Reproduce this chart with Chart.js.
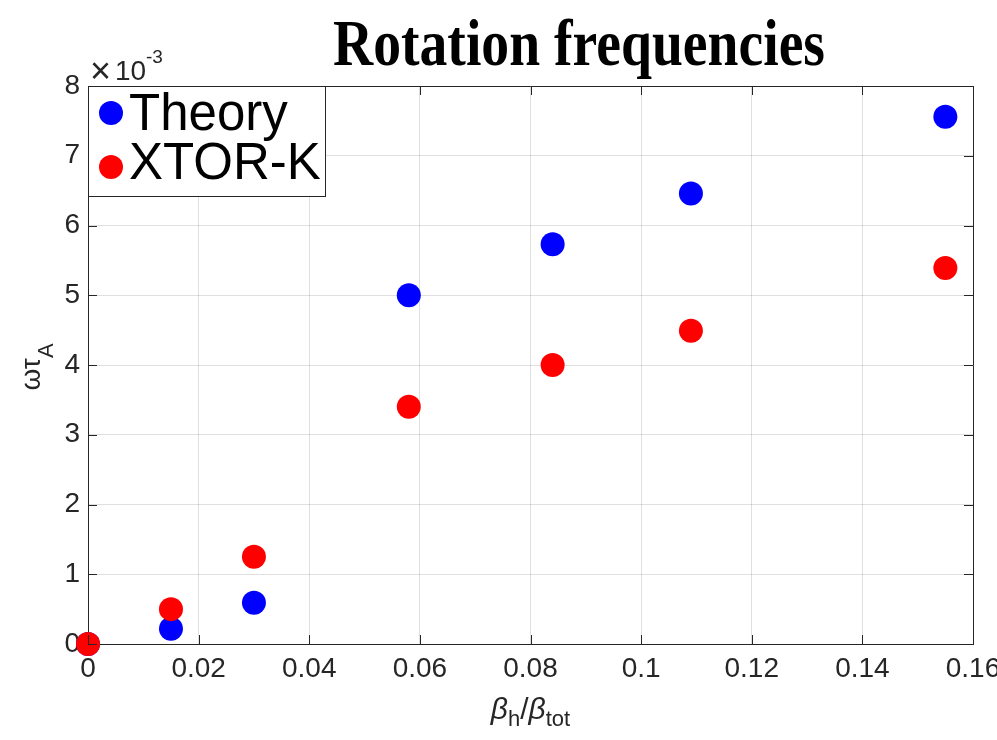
<!DOCTYPE html>
<html>
<head>
<meta charset="utf-8">
<title>Rotation frequencies</title>
<script src="https://cdn.jsdelivr.net/npm/chart.js@4.4.1/dist/chart.umd.min.js"></script>
<style>
    html, body { margin: 0; padding: 0; background: #fff; }
    #wrap { width: 997px; height: 740px; position: relative; }
</style>
</head>
<body>
<div id="wrap"><canvas id="rotChart"></canvas></div>
<script>
// --- data (omega*tau_A in units of 1e-3) ---
const betaRatio = [0, 0.015, 0.03, 0.058, 0.084, 0.109, 0.155];
const theoryValues = [0, 0.22, 0.59, 5.0, 5.73, 6.46, 7.56];
const xtorValues = [0, 0.50, 1.25, 3.40, 4.00, 4.49, 5.39];
const seriesNames = ['Theory', 'XTOR-K'];
const xTickLabels = ['0', '0.02', '0.04', '0.06', '0.08', '0.1', '0.12', '0.14', '0.16'];
const yTickLabels = ['0', '1', '2', '3', '4', '5', '6', '7', '8'];

const AXIS_COLOR = '#262626';
const SANS = '"Liberation Sans", Helvetica, Arial, sans-serif';

const toPoints = (vals) => vals.map((v, i) => ({ x: betaRatio[i], y: v }));

// title, axis labels, exponent, inner ticks, box and legend (matlab look)
const matlabDecor = {
    id: 'matlabDecor',
    afterDatasetsDraw(chart) {
        const ctx = chart.ctx;
        const a = chart.chartArea;
        const xs = chart.scales.x;
        const ys = chart.scales.y;
        ctx.save();

        // top and right border
        ctx.strokeStyle = AXIS_COLOR;
        ctx.lineWidth = 1;
        ctx.beginPath();
        ctx.moveTo(a.left, a.top + 0.5);
        ctx.lineTo(a.right + 0.5, a.top + 0.5);
        ctx.lineTo(a.right + 0.5, a.bottom);
        ctx.stroke();

        // inner tick marks
        const tl = 9;
        ctx.beginPath();
        xs.ticks.forEach(t => {
            const px = Math.round(xs.getPixelForValue(t.value)) + 0.5;
            ctx.moveTo(px, a.bottom); ctx.lineTo(px, a.bottom - tl);
            ctx.moveTo(px, a.top); ctx.lineTo(px, a.top + tl);
        });
        ys.ticks.forEach(t => {
            const py = Math.round(ys.getPixelForValue(t.value)) + 0.5;
            ctx.moveTo(a.left, py); ctx.lineTo(a.left + tl, py);
            ctx.moveTo(a.right, py); ctx.lineTo(a.right - tl, py);
        });
        ctx.stroke();

        // legend box
        const lx = a.left, ly = a.top, lw = 237, lh = 110;
        ctx.fillStyle = '#fff';
        ctx.fillRect(lx, ly, lw, lh);
        ctx.strokeRect(lx + 0.5, ly + 0.5, lw, lh);
        const rows = [113, 167];
        const bases = [130, 179];
        chart.data.datasets.forEach((ds, i) => {
            ctx.fillStyle = ds.backgroundColor;
            ctx.beginPath();
            ctx.arc(lx + 23, rows[i], 12, 0, Math.PI * 2);
            ctx.fill();
            ctx.fillStyle = '#000';
            ctx.font = '51px ' + SANS;
            ctx.textAlign = 'left';
            ctx.textBaseline = 'alphabetic';
            ctx.fillText(ds.label, lx + 41, bases[i]);
        });

        // exponent label
        ctx.fillStyle = AXIS_COLOR;
        ctx.font = '36px ' + SANS;
        ctx.fillText('\u00d7', 90, 83);
        ctx.font = '28px ' + SANS;
        ctx.fillText('10', 115, 80);
        ctx.font = '19px ' + SANS;
        ctx.fillText('-3', 146, 63);

        // title
        ctx.save();
        ctx.fillStyle = '#000';
        ctx.font = 'bold 66px "Liberation Serif", "Times New Roman", serif';
        const title = 'Rotation frequencies';
        const tw = ctx.measureText(title).width;
        const sx = 492 / tw;
        ctx.translate(579, 65);
        ctx.scale(sx, 1);
        ctx.textAlign = 'center';
        ctx.fillText(title, 0, 0);
        ctx.restore();

        // draws main/subscript runs left to right, centred on cx
        function runs(parts, cx, base) {
            let total = 0;
            parts.forEach(p => { ctx.font = p.f; p.w = ctx.measureText(p.t).width; total += p.w; });
            let x = cx - total / 2;
            ctx.textAlign = 'left';
            parts.forEach(p => {
                ctx.font = p.f;
                ctx.fillText(p.t, x, base + p.dy);
                x += p.w;
            });
        }
        ctx.fillStyle = AXIS_COLOR;

        // x axis title
        const big = 'italic 30px ' + SANS;
        const sub = '22px ' + SANS;
        runs([
            { t: '\u03b2', f: big, dy: 0 },
            { t: 'h', f: sub, dy: 7 },
            { t: '/', f: '30px ' + SANS, dy: 0 },
            { t: '\u03b2', f: big, dy: 0 },
            { t: 'tot', f: sub, dy: 7 }
        ], (a.left + a.right) / 2, 719);

        // y axis title (rotated)
        ctx.save();
        ctx.translate(40, 367);
        ctx.rotate(-Math.PI / 2);
        runs([
            { t: '\u03c9\u03c4', f: '28px ' + SANS, dy: 0 },
            { t: 'A', f: '22px ' + SANS, dy: 13 }
        ], 0, 0);
        ctx.restore();

        ctx.restore();
    }
};

const ctx = document.getElementById('rotChart').getContext('2d');
new Chart(ctx, {
    type: 'scatter',
    data: {
        datasets: [
            {
                label: seriesNames[0],
                data: toPoints(theoryValues),
                backgroundColor: '#0000ff',
                borderWidth: 0,
                pointRadius: 12,
                pointHoverRadius: 12,
                clip: false,
                order: 1
            },
            {
                label: seriesNames[1],
                data: toPoints(xtorValues),
                backgroundColor: '#ff0000',
                borderWidth: 0,
                pointRadius: 12,
                pointHoverRadius: 12,
                clip: false,
                order: 0
            }
        ]
    },
    options: {
        responsive: true,
        maintainAspectRatio: false,
        animation: false,
        layout: { padding: { top: 86, right: 24, left: 0, bottom: 0 } },
        plugins: {
            legend: { display: false },
            title: { display: false },
            tooltip: { enabled: false }
        },
        scales: {
            x: {
                type: 'linear',
                min: 0,
                max: 0.16,
                afterFit: (s) => { s.height = 96; s.paddingRight = 0; s.paddingLeft = 0; },
                ticks: {
                    stepSize: 0.02,
                    padding: 8,
                    color: AXIS_COLOR,
                    font: { family: SANS, size: 28 },
                    maxRotation: 0,
                    autoSkip: false,
                    callback: (v, i) => xTickLabels[i]
                },
                grid: { color: 'rgba(38,38,38,0.15)', drawTicks: false },
                border: { color: AXIS_COLOR, width: 1 }
            },
            y: {
                min: 0,
                max: 8,
                afterFit: (s) => { s.width = 88; },
                ticks: {
                    stepSize: 1,
                    padding: 8,
                    color: AXIS_COLOR,
                    font: { family: SANS, size: 28 },
                    callback: (v, i) => yTickLabels[i]
                },
                grid: { color: 'rgba(38,38,38,0.15)', drawTicks: false },
                border: { color: AXIS_COLOR, width: 1 }
            }
        }
    },
    plugins: [matlabDecor]
});
</script>
</body>
</html>
